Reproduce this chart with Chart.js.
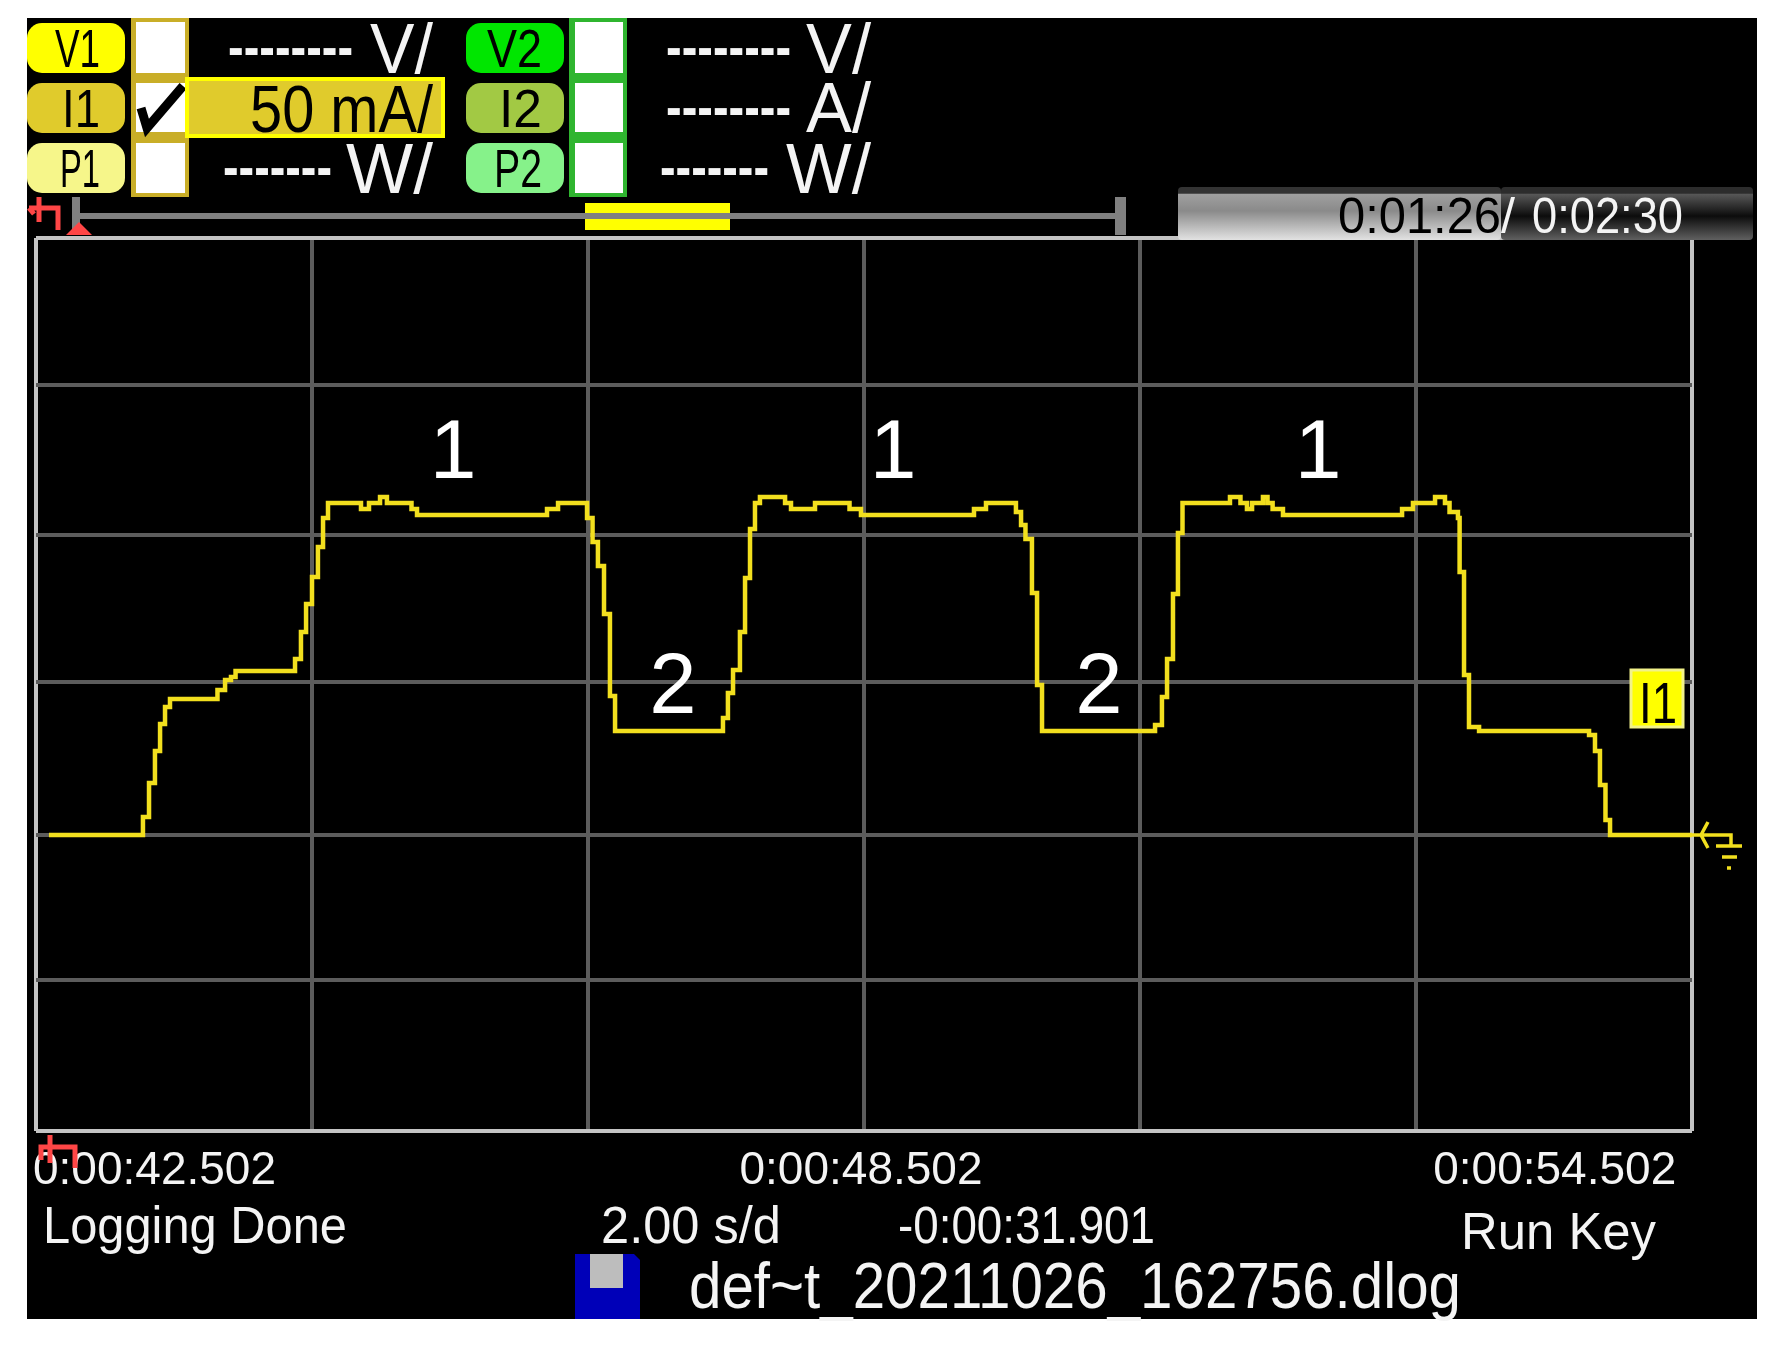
<!DOCTYPE html>
<html>
<head>
<meta charset="utf-8">
<title>def~t_20211026_162756.dlog</title>
<script src="https://cdn.jsdelivr.net/npm/chart.js@4/dist/chart.umd.min.js"></script>
<style>
    html, body { margin: 0; padding: 0; background: #fff; }
    #wrap { position: relative; width: 1777px; height: 1346px; overflow: hidden; filter: blur(0.6px); }
    #screen { position: absolute; left: 27px; top: 18px; width: 1730px; height: 1301px; background: #000; }
    #scope { position: absolute; left: 0; top: 0; }
    #overlay { position: absolute; left: 0; top: 0; }
    #overlay text { font-family: "Liberation Sans", sans-serif; }
    #overlay .w { fill: #f4f4f4; }
    #overlay .k { fill: #000; }
    #overlay .mark { fill: #fff; text-anchor: middle; }
</style>
</head>
<body>
<div id="wrap">
    <div id="screen"></div>
    <canvas id="scope" width="1777" height="1346"></canvas>
    <svg id="overlay" width="1777" height="1346" xmlns="http://www.w3.org/2000/svg">
        <defs>
            <linearGradient id="barLight" x1="0" y1="0" x2="0" y2="1">
                <stop offset="0" stop-color="#333"/><stop offset="0.12" stop-color="#333"/>
                <stop offset="0.13" stop-color="#a0a0a0"/><stop offset="0.45" stop-color="#8a8a8a"/>
                <stop offset="1" stop-color="#e2e2e2"/>
            </linearGradient>
            <linearGradient id="barDark" x1="0" y1="0" x2="0" y2="1">
                <stop offset="0" stop-color="#2c2c2c"/><stop offset="0.12" stop-color="#2c2c2c"/>
                <stop offset="0.13" stop-color="#585858"/><stop offset="0.55" stop-color="#0c0c0c"/>
                <stop offset="1" stop-color="#606060"/>
            </linearGradient>
        </defs>

        <!-- channel 1 / 2 buttons -->
        <rect x="27" y="23" width="98" height="50" rx="15" fill="#ffff00"/>
        <rect x="27" y="83" width="98" height="50" rx="15" fill="#e0cb2c"/>
        <rect x="27" y="143" width="98" height="50" rx="15" fill="#f6f68a"/>
        <rect x="466" y="23" width="98" height="50" rx="15" fill="#00e600"/>
        <rect x="466" y="83" width="98" height="50" rx="15" fill="#a2c944"/>
        <rect x="466" y="143" width="98" height="50" rx="15" fill="#86f28a"/>
        <text class="k" x="55" y="67" font-size="54" textLength="45" lengthAdjust="spacingAndGlyphs">V1</text>
        <text class="k" x="62" y="127" font-size="54" textLength="38" lengthAdjust="spacingAndGlyphs">I1</text>
        <text class="k" x="60" y="187" font-size="54" textLength="40" lengthAdjust="spacingAndGlyphs">P1</text>
        <text class="k" x="487" y="67" font-size="54" textLength="55" lengthAdjust="spacingAndGlyphs">V2</text>
        <text class="k" x="499" y="127" font-size="54" textLength="43" lengthAdjust="spacingAndGlyphs">I2</text>
        <text class="k" x="494" y="187" font-size="54" textLength="48" lengthAdjust="spacingAndGlyphs">P2</text>

        <rect x="131" y="18" width="58" height="179" fill="#c9ae28"/>
        <rect x="136" y="22" width="49" height="51" fill="#fff"/>
        <rect x="136" y="83" width="49" height="49" fill="#fff"/>
        <rect x="136" y="143" width="49" height="50" fill="#fff"/>
        <path d="M141 108 L147 128 L183 86" fill="none" stroke="#000" stroke-width="9"/>
        <rect x="569" y="18" width="58" height="179" fill="#2fb52f"/>
        <rect x="575" y="22" width="48" height="51" fill="#fff"/>
        <rect x="575" y="83" width="48" height="49" fill="#fff"/>
        <rect x="575" y="143" width="48" height="50" fill="#fff"/>

        <rect x="187" y="79" width="256" height="57" fill="#e0cb2c" stroke="#ffff00" stroke-width="4"/>
        <text class="k" x="250" y="132" font-size="66" textLength="183" lengthAdjust="spacingAndGlyphs">50 mA/</text>

        <text class="w" x="228" y="67" font-size="58" font-weight="bold" textLength="125" lengthAdjust="spacingAndGlyphs">--------</text>
        <text class="w" x="370" y="73" font-size="70" textLength="63" lengthAdjust="spacingAndGlyphs">V/</text>
        <text class="w" x="223" y="187" font-size="58" font-weight="bold" textLength="109" lengthAdjust="spacingAndGlyphs">-------</text>
        <text class="w" x="346" y="193" font-size="70" textLength="87" lengthAdjust="spacingAndGlyphs">W/</text>
        <text class="w" x="666" y="67" font-size="58" font-weight="bold" textLength="125" lengthAdjust="spacingAndGlyphs">--------</text>
        <text class="w" x="806" y="73" font-size="70" textLength="65" lengthAdjust="spacingAndGlyphs">V/</text>
        <text class="w" x="666" y="127" font-size="58" font-weight="bold" textLength="125" lengthAdjust="spacingAndGlyphs">--------</text>
        <text class="w" x="806" y="132" font-size="70" textLength="65" lengthAdjust="spacingAndGlyphs">A/</text>
        <text class="w" x="660" y="187" font-size="58" font-weight="bold" textLength="109" lengthAdjust="spacingAndGlyphs">-------</text>
        <text class="w" x="786" y="193" font-size="70" textLength="85" lengthAdjust="spacingAndGlyphs">W/</text>

        <!-- scroll bar above the plot -->
        <rect x="585" y="203" width="145" height="27" fill="#ffff00"/>
        <rect x="72" y="197" width="8" height="38" fill="#808080"/>
        <rect x="1115" y="197" width="11" height="38" fill="#808080"/>
        <rect x="78" y="213" width="1040" height="6" fill="#808080"/>
        <path d="M39 197 V222 M29 208 H58 V230 M29 208 L34 214" fill="none" stroke="#ff4646" stroke-width="5"/>
        <path d="M66 235 L79 222 L92 235 Z" fill="#ff4646"/>

        <!-- logged time bar -->
        <rect x="1178" y="187" width="323" height="53" rx="4" fill="url(#barLight)"/>
        <rect x="1501" y="187" width="252" height="53" rx="4" fill="url(#barDark)"/>
        <text class="k" x="1338" y="233" font-size="50" textLength="163" lengthAdjust="spacingAndGlyphs">0:01:26</text>
        <text class="w" x="1501" y="233" font-size="50" textLength="14" lengthAdjust="spacingAndGlyphs">/</text>
        <text class="w" x="1532" y="233" font-size="50" textLength="151" lengthAdjust="spacingAndGlyphs">0:02:30</text>

        <!-- trace notes -->
        <text class="mark" x="453" y="478" font-size="84">1</text>
        <text class="mark" x="893" y="478" font-size="84">1</text>
        <text class="mark" x="1318" y="478" font-size="84">1</text>
        <text class="mark" x="673" y="713" font-size="85">2</text>
        <text class="mark" x="1099" y="713" font-size="85">2</text>

        <!-- I1 tag and ground symbol -->
        <rect x="1631" y="670" width="52" height="57" fill="#ffff00" stroke="#f2f28a" stroke-width="3"/>
        <text class="k" x="1639" y="723" font-size="58" textLength="38" lengthAdjust="spacingAndGlyphs">I1</text>
        <path d="M1692 835 H1731 V845 M1716 846 H1742 M1722 857 H1737 M1727 868 H1731 M1708 822 L1701 835 L1708 848" fill="none" stroke="#f2df1e" stroke-width="3.5"/>

        <!-- status lines -->
        <text class="w" x="43" y="1243" font-size="52" textLength="304" lengthAdjust="spacingAndGlyphs">Logging Done</text>
        <text class="w" x="601" y="1243" font-size="52" textLength="180" lengthAdjust="spacingAndGlyphs">2.00 s/d</text>
        <text class="w" x="898" y="1243" font-size="52" textLength="257" lengthAdjust="spacingAndGlyphs">-0:00:31.901</text>
        <text class="w" x="1461" y="1249" font-size="52" textLength="195" lengthAdjust="spacingAndGlyphs">Run Key</text>
        <text class="w" x="689" y="1308" font-size="64" textLength="772" lengthAdjust="spacingAndGlyphs">def~t_20211026_162756.dlog</text>

        <!-- save icon -->
        <path d="M575 1254 H634 L640 1260 V1319 H575 Z" fill="#0000b8"/>
        <rect x="590" y="1254" width="33" height="34" fill="#bdbdbd"/>

        <!-- time cursor -->
        <path d="M50 1135 V1163 M41 1160 V1147 H75 V1168" fill="none" stroke="#ff4646" stroke-width="5"/>
    </svg>
</div>

<script>
// I1 trace. 50 mA/div, 2 s/div
const traceSeconds = [
    0.094, 0.775, 0.819, 0.862, 0.899, 0.935, 0.971, 1.315, 1.370, 1.413, 1.446,
    1.877, 1.920, 1.957, 2.000, 2.043, 2.080, 2.116, 2.355, 2.413, 2.493, 2.543,
    2.721, 2.761, 3.703, 3.783, 3.993, 4.033, 4.072, 4.116, 4.159, 4.196,
    4.978, 5.014, 5.051, 5.101, 5.138, 5.174, 5.210, 5.246, 5.428, 5.471, 5.645,
    5.895, 5.978, 6.797, 6.884, 7.101, 7.138, 7.170, 7.217, 7.254, 7.290,
    8.109, 8.159, 8.196, 8.239, 8.275, 8.308, 8.652, 8.728, 8.775, 8.812, 8.891,
    8.924, 8.961, 9.036, 9.899, 9.978, 10.138, 10.210, 10.243, 10.304, 10.316,
    10.348, 10.384, 10.457, 11.254, 11.297, 11.333, 11.373, 11.406, 12.000
];
const traceCurrent = [
    0, 6, 17.3, 28, 37, 42.7, 45.3, 48.3, 51.7, 52.7, 54.7,
    58.7, 67.7, 77, 86, 96, 105.7, 110.7, 108.7, 110.7, 112.7, 110.7,
    108.7, 106.7, 108.7, 110.7, 105.7, 97.7, 89.7, 73.7, 46.3, 34.7,
    39, 47.3, 55, 67.7, 85.7, 102, 110.7, 112.7, 110.7, 108.7, 110.7,
    108.7, 106.7, 108.7, 110.7, 107.7, 103.3, 98.7, 80.7, 50, 34.7,
    36.7, 46, 58.7, 80.3, 100.7, 110.7, 112.7, 110.7, 108.7, 110.7, 112.7,
    110.7, 108.7, 106.7, 108.7, 110.7, 112.7, 110.7, 107.7, 105.7, 87.7,
    53.3, 36, 34.7, 33.3, 28, 16.7, 5, 0, 0
];

const xGridSeconds = [0, 2, 4, 6, 8, 10, 12];
const xTickLabels = ['0:00:42.502', '', '', '0:00:48.502', '', '', '0:00:54.502 '];
const yGridCurrent = [-98.67, -48.3, 0, 51, 100, 150, 199];

const traceColor = '#f2df1e';
const gridColor = '#5c5c5c';
const frameColor = '#c4c4c4';

const points = traceSeconds.map((s, i) => ({ x: s, y: traceCurrent[i] }));

function isFrame(values, value) {
    return value === values[0] || value === values[values.length - 1];
}

const ctx = document.getElementById('scope').getContext('2d');

new Chart(ctx, {
    type: 'line',
    data: {
        datasets: [{
            label: 'I1',
            data: points,
            borderColor: traceColor,
            borderWidth: 4.5,
            pointRadius: 0,
            stepped: true,
            fill: false
        }]
    },
    options: {
        responsive: false,
        animation: false,
        layout: {
            padding: { left: 36, right: 85, top: 238, bottom: 115 }
        },
        plugins: {
            legend: { display: false },
            title: { display: false },
            tooltip: { enabled: false }
        },
        scales: {
            x: {
                type: 'linear',
                min: 0,
                max: 12,
                afterBuildTicks: scale => {
                    scale.ticks = xGridSeconds.map(v => ({ value: v }));
                },
                afterFit: scale => { scale.height = 100; },
                grid: {
                    color: c => isFrame(xGridSeconds, c.tick.value) ? frameColor : gridColor,
                    lineWidth: 4,
                    drawTicks: false
                },
                border: { display: false },
                ticks: {
                    autoSkip: false,
                    maxRotation: 0,
                    align: 'inner',
                    labelOffset: -3,
                    padding: 13,
                    color: '#f4f4f4',
                    font: { family: '"Liberation Sans", sans-serif', size: 46 },
                    callback: (value, index) => xTickLabels[index]
                }
            },
            y: {
                type: 'linear',
                min: -98.67,
                max: 199,
                afterBuildTicks: scale => {
                    scale.ticks = yGridCurrent.map(v => ({ value: v }));
                },
                afterFit: scale => { scale.width = 0; },
                grid: {
                    color: c => isFrame(yGridCurrent, c.tick.value) ? frameColor : gridColor,
                    lineWidth: 4,
                    drawTicks: false
                },
                border: { display: false },
                ticks: { display: false }
            }
        }
    }
});
</script>
</body>
</html>
